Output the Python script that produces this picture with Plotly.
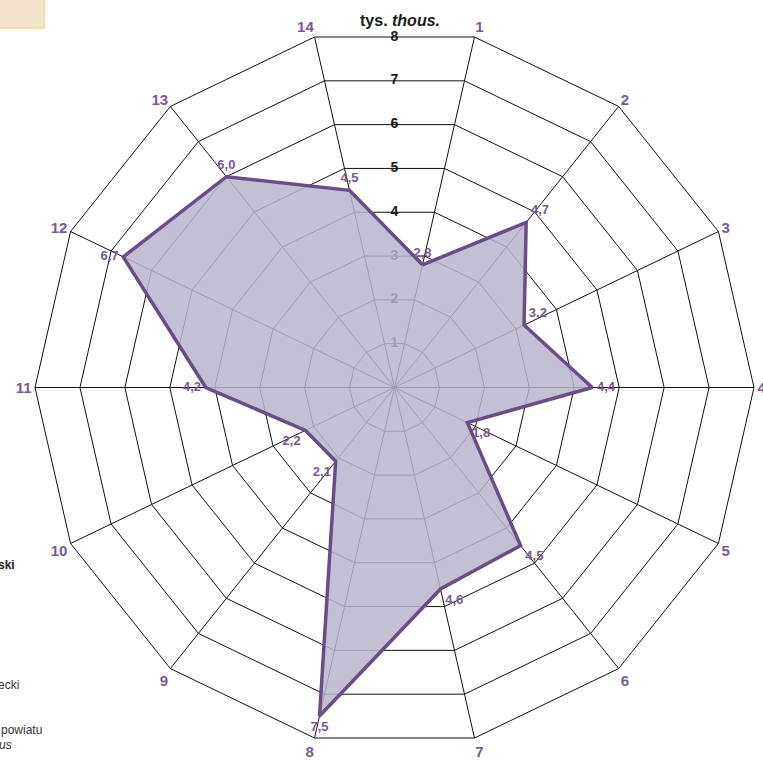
import math
import plotly.graph_objects as go

# ---- data ----
categories = ["1", "2", "3", "4", "5", "6", "7", "8", "9", "10", "11", "12", "13", "14"]
values = [2.8, 4.7, 3.2, 4.4, 1.8, 4.5, 4.6, 7.5, 2.1, 2.2, 4.2, 6.7, 6.0, 4.5]
label_positions = ["top center", "top right", "top right", "middle right", "bottom right",
                   "bottom right", "bottom right", "bottom center", "bottom left", "bottom left",
                   "middle left", "middle left", "top center", "top center"]
radial_ticks = [1, 2, 3, 4, 5, 6, 7, 8]
radial_max = 8

PURPLE_LINE = "#6B4D85"
PURPLE_TEXT = "#7A5A92"
FILL = "rgba(184,180,204,0.85)"
FONT = "Liberation Sans, Arial, sans-serif"

n = len(categories)
half_step = 180.0 / n
text_labels = [f"{v:.1f}".replace(".", ",") for v in values]

L, R, T, B = 35, 9, 28, 13
W, H = 763, 760
PW, PH = W - L - R, H - T - B


def px_x(x):
    return (x - L) / PW


def px_y(y):
    return (H - B - y) / PH


fig = go.Figure()

# radial tick labels (bottom subplot, drawn beneath the filled area)
fig.add_trace(go.Scatterpolar(
    r=[t * math.cos(math.radians(half_step)) for t in radial_ticks],
    theta=[90] * len(radial_ticks),
    text=[str(t) for t in radial_ticks],
    mode="text",
    textposition="middle center",
    textfont=dict(family=FONT, size=14, color="#1a1a1a", weight="bold"),
    hoverinfo="skip",
    showlegend=False,
    subplot="polar",
))

# main data
fig.add_trace(go.Scatterpolar(
    r=values + [values[0]],
    theta=categories + [categories[0]],
    text=text_labels + [""],
    mode="lines+markers+text",
    textposition=label_positions + ["top center"],
    textfont=dict(family=FONT, size=13, color=PURPLE_TEXT, weight="bold"),
    fill="toself",
    fillcolor=FILL,
    line=dict(color=PURPLE_LINE, width=3.5),
    marker=dict(size=6, color="rgba(0,0,0,0)"),
    showlegend=False,
    subplot="polar2",
))

fig.update_layout(
    width=W, height=H,
    margin=dict(l=L, r=R, t=T, b=B),
    paper_bgcolor="white",
    plot_bgcolor="white",
    showlegend=False,
    polar=dict(
        domain=dict(x=[0, 1], y=[0, 1]),
        bgcolor="white",
        angularaxis=dict(type="linear", rotation=0, direction="counterclockwise",
                         showgrid=False, showline=False, showticklabels=False, ticks=""),
        radialaxis=dict(range=[0, radial_max], showgrid=False, showline=False,
                        showticklabels=False, ticks=""),
    ),
    polar2=dict(
        domain=dict(x=[0, 1], y=[0, 1]),
        bgcolor="rgba(0,0,0,0)",
        gridshape="linear",
        angularaxis=dict(
            type="category",
            categoryorder="array",
            categoryarray=categories,
            rotation=90 - half_step,
            direction="clockwise",
            showgrid=True, gridcolor="#111111", gridwidth=1,
            showline=True, linecolor="#111111", linewidth=1,
            ticks="",
            tickfont=dict(family=FONT, size=15, color=PURPLE_TEXT, weight="bold"),
            layer="below traces",
        ),
        radialaxis=dict(
            range=[0, radial_max],
            tickvals=radial_ticks,
            showgrid=True, gridcolor="#111111", gridwidth=1,
            showline=False, showticklabels=False, ticks="",
            layer="below traces",
        ),
    ),
    annotations=[
        dict(text="<b>tys. <i>thous.</i></b>", x=px_x(400), y=px_y(20),
             xref="paper", yref="paper", xanchor="center", yanchor="middle", showarrow=False,
             font=dict(family=FONT, size=16, color="#1a1a1a")),
        dict(text="<b>ski</b>", x=px_x(17), y=px_y(565), xref="paper", yref="paper",
             xanchor="right", yanchor="middle", showarrow=False,
             font=dict(family=FONT, size=12, color="#222222")),
        dict(text="ecki", x=px_x(21), y=px_y(685), xref="paper", yref="paper",
             xanchor="right", yanchor="middle", showarrow=False,
             font=dict(family=FONT, size=12, color="#333333")),
        dict(text="powiatu", x=px_x(44), y=px_y(730), xref="paper", yref="paper",
             xanchor="right", yanchor="middle", showarrow=False,
             font=dict(family=FONT, size=12, color="#333333")),
        dict(text="<i>us</i>", x=px_x(14), y=px_y(745), xref="paper", yref="paper",
             xanchor="right", yanchor="middle", showarrow=False,
             font=dict(family=FONT, size=12, color="#333333")),
    ],
    shapes=[
        dict(type="rect", xref="paper", yref="paper",
             x0=px_x(-5), x1=px_x(44), y0=px_y(28), y1=px_y(-5),
             fillcolor="#F3E3CB", line=dict(color="#FCD9A0", width=2), layer="above"),
    ],
)

fig.write_html("out.html", config={"displayModeBar": False},
               post_script="document.body.style.margin='0';")
